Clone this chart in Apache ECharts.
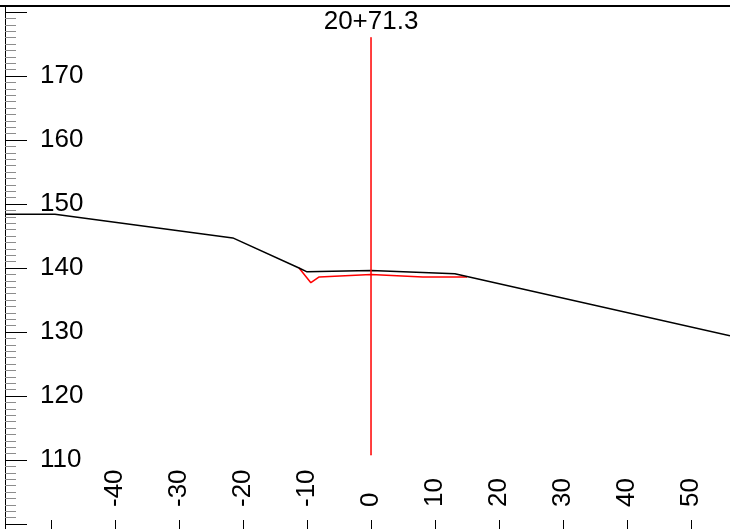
<!DOCTYPE html>
<html>
<head>
<meta charset="utf-8">
<script src="https://cdn.jsdelivr.net/npm/echarts@6/dist/echarts.min.js"></script>
<style>
html,body{margin:0;padding:0;background:#fff;}
#chart{width:730px;height:529px;}
</style>
</head>
<body>
<div id="chart"></div>
<script>
// ---- data ----
const stationLabel = '20+71.3';
const groundX = [-57.2, -49.4, -21.6, -11.25, -10.0, 0, 13.1, 56.1];
const groundY = [148.4, 148.4, 144.7, 140.0, 139.4, 139.6, 139.1, 129.4];
const designX = [-11.25, -9.4, -8.1, 0, 8.1, 15.0];
const designY = [140.0, 137.7, 138.6, 139.0, 138.6, 138.6];
const stationX = [0, 0];
const stationY = [110.8, 176.0];
const xTickValues = [-50, -40, -30, -20, -10, 0, 10, 20, 30, 40, 50];
const xTickLabels = ['-40', '-30', '-20', '-10', '0', '10', '20', '30', '40', '50'];
const yTickValues = [100, 110, 120, 130, 140, 150, 160, 170, 180];
const yTickLabels = ['110', '120', '130', '140', '150', '160', '170'];
const xRange = [-57.2, 56.1];
const yRange = [99.22, 180.94];

const FONT = 'Liberation Sans, Arial, sans-serif';
const zip = (xs, ys) => xs.map((x, i) => [x, ys[i]]);
const yMinorValues = [];
for (let v = yTickValues[0]; v <= yTickValues[yTickValues.length - 1]; v++) {
  if (!yTickValues.includes(v)) yMinorValues.push(v);
}

const stationData = zip(stationX, stationY).map((p, i, arr) =>
  i === arr.length - 1
    ? { value: p, label: { show: true, position: 'top', distance: 2, formatter: stationLabel,
        fontSize: 26, color: '#000', fontFamily: FONT } }
    : { value: p });

const chart = echarts.init(document.getElementById('chart'), null, { renderer: 'canvas' });
chart.setOption({
  animation: false,
  backgroundColor: '#fff',
  grid: [
    { left: 0, right: 0, top: 6, bottom: 0, containLabel: false },
    { left: 5, right: 0, top: 6, bottom: 0, containLabel: false }
  ],
  xAxis: [
    { gridIndex: 0, type: 'value', position: 'top', min: 0, max: 1,
      axisLine: { show: true, onZero: false, lineStyle: { color: '#000', width: 2 } },
      axisTick: { show: false }, axisLabel: { show: false }, splitLine: { show: false } },
    { gridIndex: 1, type: 'value', position: 'bottom', min: xRange[0], max: xRange[1],
      axisLine: { show: false, onZero: false },
      axisTick: { show: true, inside: true, length: 9, customValues: xTickValues,
        lineStyle: { color: '#000', width: 1 } },
      axisLabel: { show: true, inside: true, rotate: 90, margin: 22, fontSize: 26, color: '#000', fontFamily: FONT,
        customValues: xTickLabels.map(Number), formatter: v => String(v) },
      splitLine: { show: false } }
  ],
  yAxis: [
    { gridIndex: 0, type: 'value', position: 'left', min: 0, max: 1, show: false },
    { gridIndex: 1, type: 'value', position: 'left', min: yRange[0], max: yRange[1],
      axisLine: { show: true, onZero: false, lineStyle: { color: '#000', width: 1 } },
      axisTick: { show: true, inside: true, length: 22, customValues: yTickValues,
        lineStyle: { color: '#000', width: 1 } },
      axisLabel: { show: true, inside: true, margin: 35, fontSize: 26, color: '#000', fontFamily: FONT,
        customValues: yTickLabels.map(Number), formatter: v => String(v) },
      splitLine: { show: false } },
    { gridIndex: 1, type: 'value', position: 'left', min: yRange[0], max: yRange[1],
      axisLine: { show: false, onZero: false },
      axisTick: { show: true, inside: true, length: 11, customValues: yMinorValues,
        lineStyle: { color: '#8c8c8c', width: 1 } },
      axisLabel: { show: false },
      splitLine: { show: false } }
  ],
  series: [
    { type: 'line', xAxisIndex: 1, yAxisIndex: 1, data: zip(groundX, groundY),
      symbol: 'none', lineStyle: { color: '#000', width: 1.5 }, z: 3 },
    { type: 'line', xAxisIndex: 1, yAxisIndex: 1, data: zip(designX, designY),
      symbol: 'none', lineStyle: { color: '#ff0000', width: 1.5 }, z: 2 },
    { type: 'line', xAxisIndex: 1, yAxisIndex: 1, data: stationData,
      symbol: 'circle', symbolSize: 1, showSymbol: true,
      itemStyle: { color: '#ff0000' }, lineStyle: { color: '#ff0000', width: 1.5 }, z: 4 }
  ]
});
</script>
</body>
</html>
